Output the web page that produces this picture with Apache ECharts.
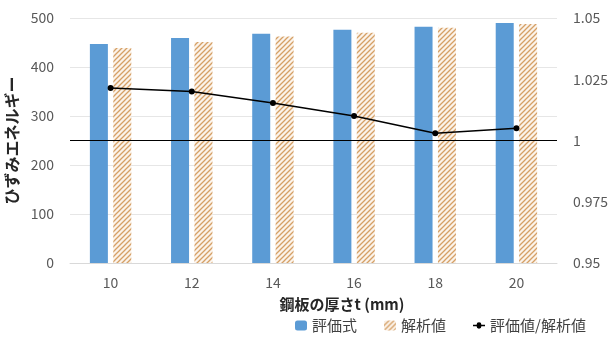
<!DOCTYPE html>
<html>
<head>
<meta charset="utf-8">
<script src="https://cdn.jsdelivr.net/npm/echarts@6/dist/echarts.min.js"></script>
<style>
html,body{margin:0;padding:0;background:#fff;}
#chart{width:608px;height:343px;}
</style>
</head>
<body>
<div id="chart"></div>
<script>
var thickness = ['10', '12', '14', '16', '18', '20'];
var evalFormula = [447, 459, 468, 476, 482, 490];
var analysis = [439, 451, 462, 470, 480, 488];
var ratio = [1.0214, 1.0200, 1.0153, 1.0100, 1.0030, 1.0050];

// hatched fill for the analysis bars
function hatch() {
	var c = document.createElement('canvas');
	c.width = 5; c.height = 5;
	var g = c.getContext('2d');
	g.fillStyle = '#fbf3ea';
	g.fillRect(0, 0, 5, 5);
	g.strokeStyle = '#d5a066';
	g.lineWidth = 1.3;
	g.beginPath();
	g.moveTo(0, 5); g.lineTo(5, 0);
	g.moveTo(-2.5, 2.5); g.lineTo(2.5, -2.5);
	g.moveTo(2.5, 7.5); g.lineTo(7.5, 2.5);
	g.stroke();
	return c;
}

var font = 'Noto Sans CJK JP';
var myChart = echarts.init(document.getElementById('chart'));
var option = {
	animation: false,
	textStyle: { fontFamily: font },
	grid: { left: 70, right: 51, top: 18, bottom: 80, containLabel: false, outerBoundsMode: 'none' },
	legend: {
		bottom: 5,
		left: 290,
		itemGap: 27,
		itemWidth: 12,
		itemHeight: 10,
		textStyle: { color: '#404040', fontSize: 15, fontFamily: font },
		data: ['評価式', '解析値', { name: '評価値/解析値', icon: 'path://M0,4h3a2,2 0 1,1 4,0h3v1.4h-3a2,2 0 1,1 -4,0h-3z', itemWidth: 14, itemHeight: 7 }]
	},
	xAxis: {
		type: 'category',
		data: thickness,
		name: '鋼板の厚さt (mm)',
		nameLocation: 'middle',
		nameGap: 34,
		nameTextStyle: { color: '#262626', fontSize: 15, fontWeight: 'bold', fontFamily: font, padding: [0, 0, 0, 57] },
		axisLine: { lineStyle: { color: '#d9d9d9' } },
		axisTick: { show: false },
		axisLabel: { color: '#595959', fontSize: 14, margin: 13 }
	},
	yAxis: [{
		type: 'value',
		min: 0, max: 500, interval: 100,
		name: 'ひずみエネルギー',
		nameLocation: 'middle',
		nameRotate: 90,
		nameGap: 43,
		nameTextStyle: { color: '#262626', fontSize: 16, fontWeight: 'bold', fontFamily: font },
		axisLine: { show: false },
		axisTick: { show: false },
		axisLabel: { color: '#595959', fontSize: 14, margin: 16 },
		splitLine: { lineStyle: { color: '#e6e6e6' } }
	}, {
		type: 'value',
		min: 0.95, max: 1.05, interval: 0.025,
		axisLine: { show: false },
		axisTick: { show: false },
		axisLabel: { color: '#595959', fontSize: 14, margin: 16 },
		splitLine: { show: false }
	}],
	series: [{
		name: '評価式',
		type: 'bar',
		data: evalFormula,
		barWidth: 18,
		barGap: '30%',
		itemStyle: { color: '#5b9bd5' }
	}, {
		name: '解析値',
		type: 'bar',
		data: analysis,
		barWidth: 18,
		itemStyle: { color: { image: hatch(), repeat: 'repeat' } }
	}, {
		name: '評価値/解析値',
		type: 'line',
		yAxisIndex: 1,
		data: ratio,
		symbol: 'circle',
		symbolSize: 6,
		lineStyle: { color: '#000', width: 1.5 },
		itemStyle: { color: '#000' },
		markLine: {
			silent: true,
			symbol: 'none',
			label: { show: false },
			lineStyle: { color: '#000', width: 1.2, type: 'solid' },
			data: [{ yAxis: 1 }]
		}
	}]
};
myChart.setOption(option);
</script>
</body>
</html>
